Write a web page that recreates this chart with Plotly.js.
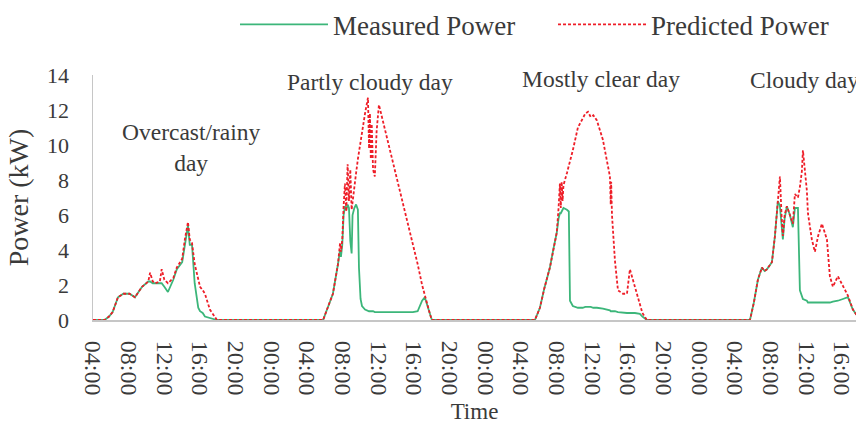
<!DOCTYPE html>
<html>
<head>
<meta charset="utf-8">
<script src="https://cdn.plot.ly/plotly-3.0.1.min.js"></script>
<style>
html,body{margin:0;padding:0;background:#fff;overflow:hidden;}
#chart{width:856px;height:428px;}
</style>
</head>
<body>
<div id="chart"></div>
<script>
// ---- Data (hour of day, kW) ----
const seriesNames = ["Measured Power", "Predicted Power"];
const dayLabels = ["Overcast/rainy<br>day", "Partly cloudy day", "Mostly clear day", "Cloudy day"];

const day1Hours     = [4.0, 5.3, 5.8, 6.2, 6.8, 7.4, 8.1, 8.7, 9.5, 10.2, 10.4, 10.7, 11.0, 11.5, 11.7, 12.0, 12.4, 13.0, 13.4, 14.0, 14.3, 14.65, 14.85, 15.1, 15.4, 15.8, 16.0, 16.3, 16.55, 17.1, 17.9];
const day1Measured  = [0, 0, 0.2, 0.45, 1.3, 1.5, 1.5, 1.3, 1.9, 2.2, 2.2, 2.1, 2.1, 2.1, 2.1, 1.9, 1.6, 2.3, 2.9, 3.3, 4.3, 5.4, 4.3, 4.3, 2.1, 0.7, 0.5, 0.4, 0.2, 0.1, 0];
const day1Predicted = [0, 0, 0.2, 0.45, 1.3, 1.5, 1.5, 1.3, 1.9, 2.2, 2.7, 2.2, 2.1, 2.2, 2.9, 2.3, 2.1, 2.4, 3.0, 3.5, 4.6, 5.6, 4.6, 4.4, 3.2, 2.2, 1.9, 1.7, 1.5, 0.6, 0];

const day2Hours     = [5.8, 6.3, 6.9, 7.47, 7.7, 7.8, 7.95, 8.1, 8.25, 8.4, 8.55, 8.7, 8.85, 9.0, 9.1, 9.3, 9.5, 9.7, 9.82, 10.0, 10.16, 10.5, 10.83, 10.95, 11.05, 11.15, 11.25, 11.4, 11.6, 11.8, 12.06, 12.3, 13.0, 14.4, 15.87, 16.4, 16.9, 17.2, 17.5, 17.8, 18.0];
const day2Measured  = [0, 0.7, 1.5, 3.2, 4.0, 3.6, 4.3, 6.0, 6.5, 6.3, 6.6, 6.4, 4.5, 3.8, 6.0, 6.4, 6.6, 6.3, 3.0, 1.2, 0.8, 0.6, 0.5, 0.5, 0.5, 0.5, 0.5, 0.5, 0.45, 0.45, 0.45, 0.45, 0.45, 0.45, 0.45, 0.5, 1.1, 1.3, 0.8, 0.3, 0];
const day2Predicted = [0, 0.7, 1.5, 3.2, 4.4, 3.9, 4.6, 6.5, 7.8, 6.2, 8.9, 6.8, 8.6, 6.3, 6.8, 7.6, 8.4, 9.2, 9.6, 10.3, 10.9, 11.8, 12.7, 9.8, 11.8, 9.2, 11.2, 8.6, 8.2, 10.8, 12.3, 11.8, 10.3, 7.4, 4.3, 3.2, 2.0, 1.4, 0.8, 0.3, 0];

const day3Hours     = [5.55, 6.11, 6.6, 7.23, 7.6, 8.0, 8.2, 8.35, 8.45, 8.55, 8.65, 8.75, 9.14, 9.35, 9.48, 9.8, 10.37, 10.9, 11.2, 11.5, 11.8, 12.1, 12.5, 13.17, 13.6, 13.96, 14.05, 14.1, 14.19, 14.3, 14.52, 14.86, 15.42, 15.87, 16.2, 16.76, 17.32, 17.6, 18.1];
const day3Measured  = [0, 0.7, 1.8, 3.0, 4.0, 5.0, 5.8, 6.1, 6.1, 6.2, 6.3, 6.4, 6.3, 6.2, 1.1, 0.8, 0.7, 0.7, 0.75, 0.75, 0.75, 0.7, 0.7, 0.65, 0.6, 0.55, 0.5, 0.5, 0.5, 0.5, 0.5, 0.45, 0.4, 0.4, 0.4, 0.4, 0.35, 0.2, 0];
const day3Predicted = [0, 0.7, 1.8, 3.0, 4.0, 5.0, 6.4, 7.8, 6.4, 7.9, 6.8, 7.7, 8.4, 8.8, 9.0, 9.7, 11.0, 11.5, 11.8, 11.9, 11.6, 11.7, 11.4, 10.3, 9.2, 8.2, 6.6, 7.9, 6.0, 5.0, 3.4, 1.7, 1.5, 1.5, 2.9, 1.9, 0.8, 0.4, 0];

const day4Hours     = [5.66, 6.1, 6.55, 7.0, 7.3, 7.56, 8.12, 8.46, 8.79, 9.02, 9.2, 9.35, 9.55, 9.8, 10.14, 10.47, 10.7, 11.04, 11.26, 11.48, 11.6, 12.04, 12.16, 12.6, 12.94, 13.3, 13.73, 14.29, 14.62, 14.96, 15.52, 16.08, 16.64, 17.2, 17.6];
const day4Measured  = [0, 1.0, 2.3, 3.0, 2.8, 2.9, 3.3, 4.8, 6.8, 6.5, 5.5, 4.6, 5.8, 6.5, 6.0, 5.3, 6.4, 6.4, 1.7, 1.3, 1.2, 1.1, 1.0, 1.0, 1.0, 1.0, 1.0, 1.0, 1.0, 1.05, 1.1, 1.2, 1.3, 0.6, 0.3];
const day4Predicted = [0, 1.0, 2.3, 3.0, 2.8, 2.9, 3.3, 4.8, 7.0, 8.2, 6.0, 4.8, 6.0, 6.5, 6.0, 5.5, 7.2, 7.0, 7.6, 8.5, 9.7, 7.4, 6.1, 4.6, 3.9, 4.8, 5.5, 4.6, 2.5, 1.9, 2.5, 1.9, 1.4, 0.6, 0.3];

// ---- Build traces ----
const BASE = Date.UTC(2021, 4, 1);
const HOUR = 3600000;
function toMs(day, h) { return BASE + (day * 24 + h) * HOUR; }

const days = [
  [day1Hours, day1Measured, day1Predicted],
  [day2Hours, day2Measured, day2Predicted],
  [day3Hours, day3Measured, day3Predicted],
  [day4Hours, day4Measured, day4Predicted]
];
const xs = [], yMeas = [], yPred = [];
days.forEach(function (d, i) {
  d[0].forEach(function (h, j) {
    xs.push(toMs(i, h));
    yMeas.push(d[1][j]);
    yPred.push(d[2][j]);
  });
});

const FONT = "Liberation Serif, Times New Roman, serif";
const TXT = "#3a3a3a";

const traces = [
  {x: xs, y: yMeas, type: "scatter", mode: "lines", name: seriesNames[0], legend: "legend",
   line: {color: "rgb(60,182,122)", width: 1.8}},
  {x: xs, y: yPred, type: "scatter", mode: "lines", name: seriesNames[1], legend: "legend2",
   line: {color: "rgb(238,30,40)", width: 1.8, dash: "3px,2px"}}
];

const annPos = [[0, 15.0, 9.85], [1, 11.05, 13.6], [2, 12.95, 13.75], [3, 11.8, 13.7]];
const annotations = annPos.map(function (p, i) {
  return {x: toMs(p[0], p[1]), y: p[2], xref: "x", yref: "y", text: dayLabels[i],
          showarrow: false, font: {family: FONT, size: 23.5, color: TXT}};
});

const legendBase = {orientation: "h", xanchor: "left", y: 1.205, yanchor: "middle",
  font: {family: FONT, size: 27, color: TXT}, itemwidth: 88, bgcolor: "rgba(0,0,0,0)"};

const layout = {
  width: 856, height: 428,
  margin: {l: 93, r: 0, t: 75, b: 108},
  paper_bgcolor: "#ffffff", plot_bgcolor: "#ffffff",
  font: {family: FONT, color: TXT},
  showlegend: true,
  legend: Object.assign({}, legendBase, {x: 0.1861}),
  legend2: Object.assign({}, legendBase, {x: 0.6029}),
  xaxis: {type: "date", range: [toMs(0, 4), toMs(3, 17.55)], tick0: toMs(0, 4), dtick: 4 * HOUR,
          tickformat: "%H:%M", tickangle: 90, ticks: "", showgrid: false, zeroline: false,
          showline: true, linecolor: "#c6c6c6", linewidth: 2, layer: "below traces",
          ticklabelstandoff: 14,
          tickfont: {family: FONT, size: 24, color: TXT},
          title: {text: "Time", font: {family: FONT, size: 23, color: TXT}, standoff: 8}},
  yaxis: {range: [0, 14], dtick: 2, ticks: "", showgrid: false, zeroline: false,
          showline: true, linecolor: "#c6c6c6", linewidth: 1.5,
          ticklabelstandoff: 18,
          tickfont: {family: FONT, size: 22, color: TXT},
          title: {text: "Power (kW)", font: {family: FONT, size: 28, color: TXT}, standoff: 10}},
  annotations: annotations
};

Plotly.newPlot("chart", traces, layout, {displayModeBar: false, staticPlot: true});
</script>
</body>
</html>
